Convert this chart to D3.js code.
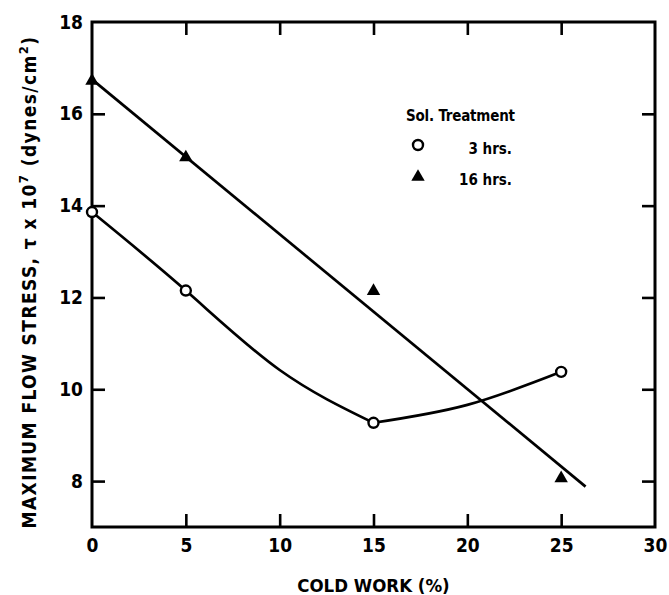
<!DOCTYPE html>
<html>
<head>
<meta charset="utf-8">
<script src="https://cdn.jsdelivr.net/npm/d3@7"></script>
<style>
  html, body { margin: 0; padding: 0; background: #fff; }
  svg { display: block; }
  text { font-family: 'DejaVu Sans Condensed', 'DejaVu Sans', sans-serif; font-stretch: condensed; font-weight: bold; fill: #000; }
</style>
</head>
<body>
<svg id="chart" width="669" height="595"></svg>
<script>
// Cold work (%) at which each specimen was tested
const coldWork = [0, 5, 15, 25];
// Maximum flow stress (x 10^7 dynes/cm^2) per solution-treatment time
const stress3h = [13.86, 12.15, 9.27, 10.38];
const stress16h = [16.72, 15.05, 12.14, 8.06];
// Hand-drawn curve through the 3 hr points: falling branch and rising branch
const curve3hFallX = [0, 5, 10, 15];
const curve3hFallY = [13.86, 12.15, 10.42, 9.27];
const curve3hRiseX = [15, 20, 25];
const curve3hRiseY = [9.27, 9.66, 10.38];
// Straight line drawn through the 16 hr points
const fit16hX = [0, 26.3];
const fit16hY = [16.75, 7.88];
// Axis ticks
const xTicks = [0, 5, 10, 15, 20, 25, 30];
const yTicks = [8, 10, 12, 14, 16, 18];
// Legend
const legendTitle = "Sol. Treatment";
const legendLabels = ["3 hrs.", "16 hrs."];

const W = 669, H = 595;
const margin = { top: 22, right: 14, bottom: 68, left: 92 };
const iw = W - margin.left - margin.right;
const ih = H - margin.top - margin.bottom;

const svg = d3.select("#chart");
const g = svg.append("g").attr("transform", `translate(${margin.left},${margin.top})`);

const x = d3.scaleLinear().domain([0, 30]).range([0, iw]);
const y = d3.scaleLinear().domain([7, 18]).range([ih, 0]);

const tickLen = 13;

function styleAxis(sel, withLabels) {
  sel.select(".domain").remove();
  sel.selectAll(".tick line").attr("stroke", "#000").attr("stroke-width", 2.6);
  sel.selectAll(".tick text")
    .style("font-size", "19px")
    .attr("fill", "#000");
  if (!withLabels) sel.selectAll(".tick text").remove();
}

// Bottom axis
g.append("g")
  .attr("transform", `translate(0,${ih})`)
  .call(d3.axisBottom(x).tickValues(xTicks).tickSize(-tickLen).tickPadding(12).tickFormat(d3.format("d")))
  .call(s => styleAxis(s, true))
  .call(s => s.selectAll(".tick line").filter(d => d === 0 || d === 30).remove());

// Top axis (ticks only)
g.append("g")
  .call(d3.axisTop(x).tickValues(xTicks.slice(1, -1)).tickSize(-tickLen))
  .call(s => styleAxis(s, false));

// Left axis
g.append("g")
  .call(d3.axisLeft(y).tickValues(yTicks).tickSize(-tickLen).tickPadding(9).tickFormat(d3.format("d")))
  .call(s => styleAxis(s, true))
  .call(s => s.selectAll(".tick line").filter(d => d === 18).remove());

// Right axis (ticks only)
g.append("g")
  .attr("transform", `translate(${iw},0)`)
  .call(d3.axisRight(y).tickValues(yTicks.slice(0, -1)).tickSize(-tickLen))
  .call(s => styleAxis(s, false));

// Plot frame
g.append("rect")
  .attr("x", 0).attr("y", 0).attr("width", iw).attr("height", ih)
  .attr("fill", "none").attr("stroke", "#000").attr("stroke-width", 3);

// 16 hr straight line
const fitData = fit16hX.map((v, i) => [v, fit16hY[i]]);
g.append("path")
  .datum(fitData)
  .attr("fill", "none").attr("stroke", "#000").attr("stroke-width", 2.7)
  .attr("d", d3.line().x(d => x(d[0])).y(d => y(d[1])));

// 3 hr curve (two smooth branches meeting at the minimum)
const smooth = d3.line().curve(d3.curveNatural).x(d => x(d[0])).y(d => y(d[1]));
[
  curve3hFallX.map((v, i) => [v, curve3hFallY[i]]),
  curve3hRiseX.map((v, i) => [v, curve3hRiseY[i]])
].forEach(branch => {
  g.append("path")
    .datum(branch)
    .attr("fill", "none").attr("stroke", "#000").attr("stroke-width", 2.7)
    .attr("stroke-linecap", "round")
    .attr("d", smooth);
});

// Markers
const data3 = coldWork.map((v, i) => [v, stress3h[i]]);
const tri = d3.symbol().type(d3.symbolTriangle).size(78);
g.selectAll(".tri")
  .data(coldWork.map((v, i) => [v, stress16h[i]]))
  .join("path")
  .attr("class", "tri")
  .attr("d", tri)
  .attr("transform", d => `translate(${x(d[0])},${y(d[1])})`)
  .attr("fill", "#000");

g.selectAll(".circ")
  .data(data3)
  .join("circle")
  .attr("class", "circ")
  .attr("cx", d => x(d[0])).attr("cy", d => y(d[1]))
  .attr("r", 5).attr("fill", "#fff").attr("stroke", "#000").attr("stroke-width", 2.4);

// Legend
const leg = svg.append("g");
leg.append("text")
  .attr("x", 406).attr("y", 121)
  .style("font-size", "15px").style("letter-spacing", "-0.2px")
  .text(legendTitle);
leg.append("circle")
  .attr("cx", 418).attr("cy", 145).attr("r", 5)
  .attr("fill", "#fff").attr("stroke", "#000").attr("stroke-width", 2.4);
leg.append("path")
  .attr("d", tri).attr("transform", "translate(418,177)").attr("fill", "#000");
legendLabels.forEach((t, i) => {
  leg.append("text")
    .attr("x", 512).attr("y", 154 + i * 31)
    .attr("text-anchor", "end")
    .style("font-size", "15px")
    .text(t);
});

// X axis title
svg.append("text")
  .attr("x", margin.left + iw / 2).attr("y", 592)
  .attr("text-anchor", "middle")
  .style("font-size", "18.5px").style("letter-spacing", "0px")
  .text("COLD WORK (%)");

// Y axis title
const yt = svg.append("text")
  .attr("transform", `translate(36,${282}) rotate(-90)`)
  .attr("text-anchor", "middle")
  .style("font-size", "19px").style("letter-spacing", "1.4px");
yt.append("tspan").text("MAXIMUM FLOW STRESS, \u03C4 x 10");
yt.append("tspan").attr("dy", -8).style("font-size", "13px").text("7");
yt.append("tspan").attr("dy", 8).text(" (dynes/cm");
yt.append("tspan").attr("dy", -8).style("font-size", "13px").text("2");
yt.append("tspan").attr("dy", 8).text(")");
</script>
</body>
</html>
